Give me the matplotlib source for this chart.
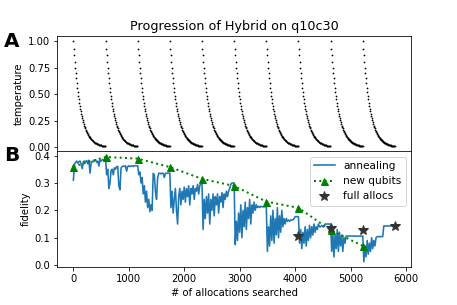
import numpy as np
import matplotlib
matplotlib.use("Agg")
import matplotlib.pyplot as plt

# restart points of the annealer (every 580 allocations)
cycle_starts = [0, 580, 1160, 1740, 2320, 2900, 3480, 4060, 4640, 5220]

# temperature schedule of one cycle, one dot every 9 allocations
temp_step = 9
temp_values = [1.000, 0.930, 0.866, 0.806, 0.750, 0.698, 0.649, 0.604, 0.562, 0.523,
               0.487, 0.453, 0.421, 0.392, 0.365, 0.339, 0.316, 0.294, 0.273, 0.254,
               0.237, 0.220, 0.205, 0.191, 0.178, 0.165, 0.154, 0.143, 0.133, 0.124,
               0.115, 0.107, 0.100, 0.093, 0.086, 0.080, 0.075, 0.070, 0.065, 0.060,
               0.056, 0.052, 0.049, 0.045, 0.042, 0.039, 0.036, 0.034, 0.032, 0.029,
               0.027, 0.025, 0.024, 0.022, 0.020, 0.019, 0.018, 0.016, 0.015, 0.014,
               0.013, 0.012, 0.012, 0.011, 0.010]

# fidelity of the annealing walk, sampled every 20 allocations (0 .. 5800)
anneal_step = 20
anneal_fid = [
    # 0 - 560
    0.31, 0.37, 0.375, 0.38, 0.372, 0.378, 0.38, 0.37, 0.352, 0.378,
    0.38, 0.376, 0.382, 0.37, 0.383, 0.336, 0.372, 0.38, 0.377, 0.383,
    0.385, 0.375, 0.38, 0.362, 0.384, 0.38, 0.386, 0.383, 0.388,
    # 580 - 1140
    0.39, 0.33, 0.35, 0.28, 0.30, 0.345, 0.35, 0.33, 0.355, 0.35,
    0.36, 0.36, 0.29, 0.275, 0.355, 0.36, 0.362, 0.36, 0.363, 0.343,
    0.36, 0.363, 0.36, 0.362, 0.363, 0.36, 0.363, 0.363, 0.363,
    # 1160 - 1720
    0.363, 0.33, 0.34, 0.30, 0.32, 0.26, 0.29, 0.23, 0.27, 0.21,
    0.24, 0.195, 0.22, 0.20, 0.335, 0.33, 0.27, 0.24, 0.32, 0.335,
    0.336, 0.333, 0.336, 0.335, 0.32, 0.336, 0.335, 0.336, 0.336,
    # 1740 - 2300
    0.336, 0.21, 0.27, 0.19, 0.24, 0.28, 0.20, 0.15, 0.25, 0.28,
    0.22, 0.27, 0.24, 0.285, 0.23, 0.28, 0.25, 0.29, 0.22, 0.28,
    0.26, 0.29, 0.24, 0.28, 0.27, 0.295, 0.26, 0.29, 0.30,
    # 2320 - 2880
    0.30, 0.13, 0.24, 0.17, 0.25, 0.19, 0.26, 0.15, 0.24, 0.20,
    0.26, 0.18, 0.25, 0.22, 0.26, 0.19, 0.25, 0.23, 0.265, 0.21,
    0.26, 0.24, 0.27, 0.25, 0.27, 0.28, 0.295, 0.30, 0.30,
    # 2900 - 3460
    0.30, 0.075, 0.16, 0.09, 0.19, 0.12, 0.22, 0.10, 0.20, 0.14,
    0.23, 0.13, 0.21, 0.17, 0.24, 0.15, 0.22, 0.19, 0.23, 0.20,
    0.22, 0.21, 0.215, 0.21, 0.215, 0.213, 0.213, 0.213, 0.213,
    # 3480 - 4040
    0.213, 0.05, 0.14, 0.07, 0.18, 0.09, 0.20, 0.08, 0.17, 0.11,
    0.21, 0.10, 0.18, 0.12, 0.20, 0.14, 0.17, 0.15, 0.17, 0.16,
    0.165, 0.16, 0.165, 0.165, 0.165, 0.17, 0.177, 0.177, 0.177,
    # 4060 - 4620
    0.177, 0.08, 0.13, 0.06, 0.12, 0.08, 0.14, 0.07, 0.13, 0.09,
    0.145, 0.10, 0.14, 0.11, 0.15, 0.12, 0.14, 0.13, 0.15, 0.14,
    0.14, 0.145, 0.14, 0.14, 0.15, 0.15, 0.15, 0.15, 0.15,
    # 4640 - 5200
    0.15, 0.05, 0.12, 0.03, 0.11, 0.06, 0.13, 0.05, 0.12, 0.07,
    0.11, 0.05, 0.10, 0.08, 0.106, 0.106, 0.106, 0.106, 0.106, 0.106,
    0.106, 0.106, 0.106, 0.106, 0.106, 0.106, 0.106, 0.106, 0.106,
    # 5220 - 5800
    0.106, 0.012, 0.07, 0.03, 0.09, 0.04, 0.08, 0.05, 0.10, 0.06,
    0.09, 0.07, 0.10, 0.104, 0.104, 0.104, 0.104, 0.104, 0.104, 0.143,
    0.143, 0.143, 0.143, 0.143, 0.143, 0.143, 0.143, 0.143, 0.143,
    0.143,
]

# best allocation when new qubits are added
new_qubit_x = cycle_starts
new_qubit_fid = [0.36, 0.395, 0.389, 0.358, 0.315, 0.289, 0.232, 0.209, 0.128, 0.07]

# complete allocations found
full_x = [4060, 4640, 5220, 5800]
full_fid = [0.106, 0.137, 0.128, 0.143]


def main():
    fig, (ax1, ax2) = plt.subplots(2, 1, sharex=True, figsize=(457 / 72, 305 / 72), dpi=72)
    plt.subplots_adjust(left=0.1254, right=0.8993, top=0.882, bottom=0.1246, hspace=0)

    # A: temperature
    offsets = np.arange(len(temp_values)) * temp_step
    for start in cycle_starts:
        ax1.plot(start + offsets, temp_values, 'k.', markersize=3.5, markeredgewidth=0)
    ax1.set_ylabel('temperature')
    ax1.set_title('Progression of Hybrid on q10c30', fontsize=12.8)

    # B: fidelity
    anneal_x = np.arange(len(anneal_fid)) * anneal_step
    ax2.plot(anneal_x, anneal_fid, color='tab:blue', linewidth=1.6, label='annealing')
    ax2.plot(new_qubit_x, new_qubit_fid, ':^', color='g', linewidth=2, markersize=7,
             label='new qubits')
    ax2.plot(full_x, full_fid, '*', color='#333333', markersize=11, linestyle='none',
             label='full allocs')
    ax2.set_ylim(-0.007, 0.415)
    ax2.set_ylabel('fidelity')
    ax2.set_xlabel('# of allocations searched')
    ax2.legend(loc='upper right', fontsize=10.5)

    fig.text(0.008, 0.864, 'A', fontsize=20, fontweight='bold', va='center')
    fig.text(0.008, 0.489, 'B', fontsize=20, fontweight='bold', va='center')

    plt.savefig('out.png', dpi=72)


if __name__ == "__main__":
    main()
